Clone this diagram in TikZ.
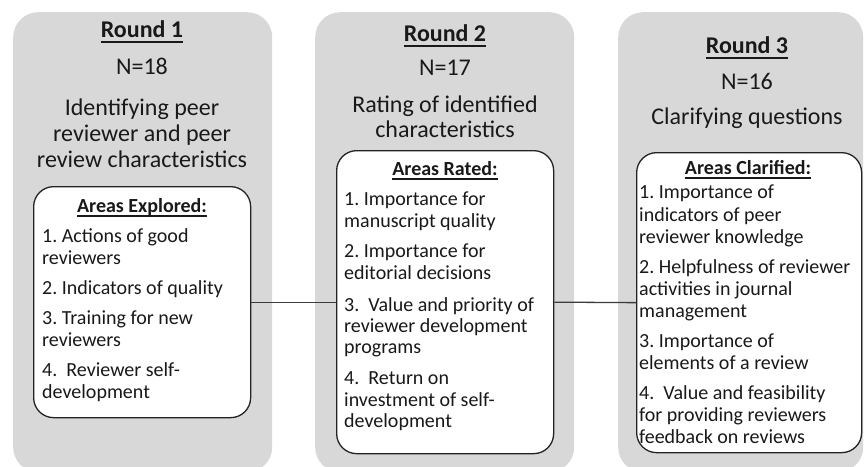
\documentclass[tikz,border=0pt]{standalone}
\usepackage{fontspec}
\setmainfont{Carlito}
\frenchspacing
\definecolor{panelgray}{RGB}{216,216,216}
\definecolor{linegray}{RGB}{60,60,60}
\definecolor{boxline}{RGB}{35,35,35}
\newcommand\myul[3]{\setbox0\hbox{#3}\rlap{\rule[-#1]{\wd0}{#2}}\box0}
\tikzset{
  panel/.style={fill=panelgray, draw=none, rounded corners=25pt, anchor=north west, inner sep=0pt},
  innerbox/.style={fill=white, draw=boxline, line width=1.3pt, rounded corners=20pt, anchor=north west, inner sep=0pt},
  big/.style={font=\fontsize{24}{26}\selectfont, text=black!90, inner sep=0pt, anchor=base},
  bighead/.style={font=\fontsize{24}{26}\selectfont\bfseries, text=black!90, inner sep=0pt, anchor=base},
  small/.style={font=\fontsize{20}{22}\selectfont, text=black!90, inner sep=0pt, anchor=base west},
  smallhead/.style={font=\fontsize{20}{22}\selectfont\bfseries, text=black!90, inner sep=0pt, anchor=base},
  conn/.style={draw=linegray, line width=1.3pt}
}
\begin{document}
\begin{tikzpicture}[x=1pt,y=-1pt]
\useasboundingbox (0,0) rectangle (864,466);
% panels
\node[panel, minimum width=259pt, minimum height=460pt] (p1) at (13,12) {};
\node[panel, minimum width=259pt, minimum height=460pt] (p2) at (315,12) {};
\node[panel, minimum width=245pt, minimum height=460pt] (p3) at (618,12) {};
% inner boxes
\node[innerbox, minimum width=217pt, minimum height=231pt] (b1) at (33,186) {};
\node[innerbox, minimum width=217pt, minimum height=303pt] (b2) at (336,150) {};
\node[innerbox, minimum width=225pt, minimum height=300pt] (b3) at (636,152) {};
% connectors
\draw[conn] (b1.east) -- (b2.west);
\draw[conn] (b2.east) -- (b3.west);
% panel 1 header
\node[bighead] (r1) at (142,37) {\myul{6pt}{2pt}{Round 1}};
\node[big] (n1) at (142,74) {N=18};
\node[big] (d1a) at (142,115) {Identifying peer};
\node[big] (d1b) at (142,141) {reviewer and peer};
\node[big] (d1c) at (142,167) {review characteristics};
% panel 2 header
\node[bighead] (r2) at (445,41) {\myul{6pt}{2pt}{Round 2}};
\node[big] (n2) at (445,75) {N=17};
\node[big] (d2a) at (445,112) {Rating of identified};
\node[big] (d2b) at (445,137) {characteristics};
% panel 3 header
\node[bighead] (r3) at (747,53) {\myul{6pt}{2pt}{Round 3}};
\node[big] (n3) at (747,89) {N=16};
\node[big] (d3a) at (747,124) {Clarifying questions};
% box headings
\node[smallhead] (h1) at (142,212) {\myul{4.5pt}{1.5pt}{Areas Explored:}};
\node[smallhead] (h2) at (445,175) {\myul{4.5pt}{1.5pt}{Areas Rated:}};
\node[smallhead] (h3) at (748,174) {\myul{4.5pt}{1.5pt}{Areas Clarified:}};
% box 1 items
\foreach \y/\t [count=\i] in {242/1. Actions of good, 264/reviewers, 294/2. Indicators of quality, 324/3. Training for new, 346/reviewers, 376/4.~ Reviewer self-, 398/development}
  \node[small] (a\i) at (42,\y) {\t};
% box 2 items
\foreach \y/\t [count=\i] in {205/1. Importance for, 227/manuscript quality, 257/2. Importance for, 279/editorial decisions, 311/3.~ Value and priority of, 332/reviewer development, 353/programs, 384/4.~ Return on, 406/investment of self-, 427/development}
  \node[small] (c\i) at (344,\y) {\t};
% box 3 items
\foreach \y/\t [count=\i] in {198/1. Importance of, 221/indicators of peer, 243/reviewer knowledge, 273/2. Helpfulness of reviewer, 295/activities in journal, 317/management, 347/3. Importance of, 369/elements of a review, 399/4.~ Value and feasibility, 421/for providing reviewers, 443/feedback on reviews}
  \node[small] (e\i) at (639,\y) {\t};
\end{tikzpicture}
\end{document}
